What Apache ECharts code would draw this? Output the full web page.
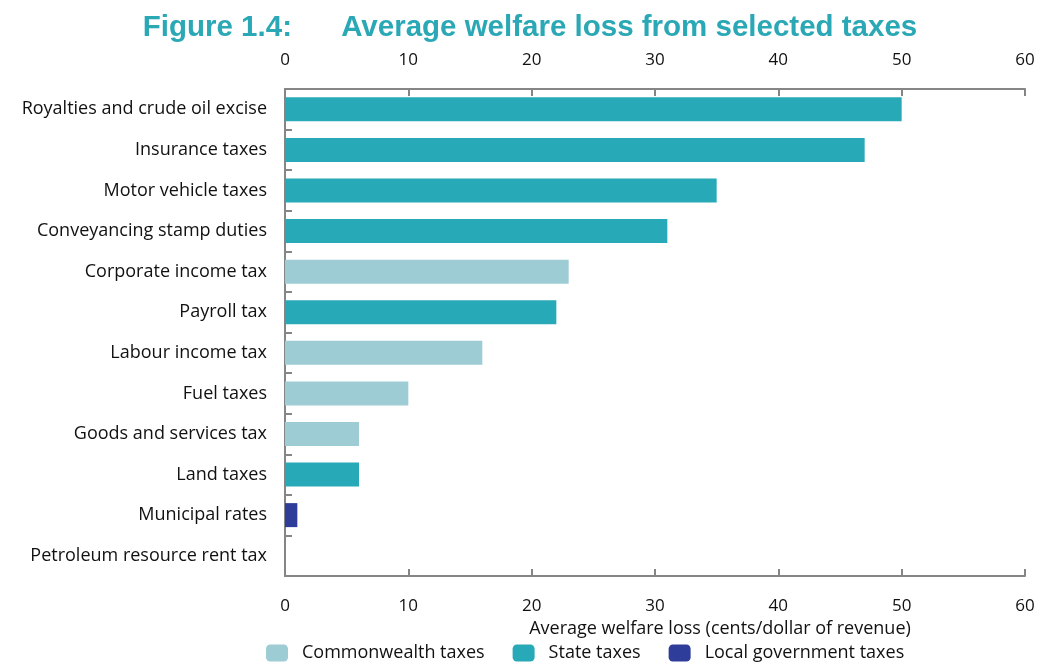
<!DOCTYPE html>
<html>
<head>
<meta charset="utf-8">
<script src="https://cdn.jsdelivr.net/npm/echarts@6/dist/echarts.min.js"></script>
<style>
  html, body { margin: 0; padding: 0; background: #fff; }
  #chart { width: 1039px; height: 662px; }
</style>
</head>
<body>
<div id="chart"></div>
<script>
// Taxes, top to bottom, with the welfare loss per dollar and the level of government
const categories = [
  'Royalties and crude oil excise',
  'Insurance taxes',
  'Motor vehicle taxes',
  'Conveyancing stamp duties',
  'Corporate income tax',
  'Payroll tax',
  'Labour income tax',
  'Fuel taxes',
  'Goods and services tax',
  'Land taxes',
  'Municipal rates',
  'Petroleum resource rent tax'
];
const values = [50, 47, 35, 31, 23, 22, 16, 10, 6, 6, 1, 0];
const levels = ['State', 'State', 'State', 'State', 'Commonwealth', 'State',
  'Commonwealth', 'Commonwealth', 'Commonwealth', 'State', 'Local', 'Commonwealth'];
const groups = ['Commonwealth', 'State', 'Local'];
const groupNames = ['Commonwealth taxes', 'State taxes', 'Local government taxes'];
const groupColors = ['#9dccd4', '#28a9b8', '#2e3d99'];
const xTicks = [0, 10, 20, 30, 40, 50, 60];

const font = '"Open Sans", Lato, sans-serif';
const axisGrey = '#858585';

const series = groups.map((g, i) => ({
  name: groupNames[i],
  type: 'bar',
  stack: 'all',
  barWidth: 24,
  itemStyle: { color: groupColors[i] },
  data: values.map((v, k) => (levels[k] === g ? v : null))
}));

const xCommon = {
  type: 'value',
  min: xTicks[0],
  max: xTicks[xTicks.length - 1],
  interval: 10,
  splitLine: { show: false },
  axisLine: { show: true, lineStyle: { color: axisGrey, width: 2 } },
  axisTick: { show: true, inside: true, length: 7, lineStyle: { color: axisGrey, width: 2 } },
  axisLabel: { color: '#111', fontSize: 17, fontFamily: font, margin: 20 }
};

const chart = echarts.init(document.getElementById('chart'), null, { renderer: 'canvas' });
chart.setOption({
  animation: false,
  backgroundColor: '#ffffff',
  title: {
    text: 'Figure 1.4:      Average welfare loss from selected taxes',
    left: 525,
    textAlign: 'center',
    top: 8,
    textStyle: {
      color: '#2aa8b5',
      fontSize: 29.5,
      fontWeight: 'bold',
      fontFamily: '"Liberation Sans", Arial, sans-serif'
    }
  },
  legend: {
    top: 639,
    left: 261,
    itemWidth: 22,
    itemHeight: 17,
    itemGap: 28,
    icon: 'roundRect',
    textStyle: { color: '#111', fontSize: 18, fontFamily: font, padding: [0, 0, 0, 9] },
    data: groupNames
  },
  grid: { left: 285, right: 14, top: 89, bottom: 86, containLabel: false },
  xAxis: [
    Object.assign({}, xCommon, {
      position: 'bottom',
      axisLabel: Object.assign({}, xCommon.axisLabel, { margin: 22 }),
      name: 'Average welfare loss (cents/dollar of revenue)',
      nameLocation: 'middle',
      nameGap: 44,
      nameTextStyle: { color: '#111', fontSize: 18, fontFamily: font, padding: [0, 0, 0, 130] }
    }),
    Object.assign({}, xCommon, { position: 'top' })
  ],
  yAxis: {
    type: 'category',
    inverse: true,
    data: categories,
    axisLine: { show: true, lineStyle: { color: axisGrey, width: 2 } },
    axisTick: { show: true, inside: true, length: 7, lineStyle: { color: axisGrey, width: 2 } },
    axisLabel: { color: '#111', fontSize: 18, fontFamily: font, margin: 18 }
  },
  series: series
});
</script>
</body>
</html>
